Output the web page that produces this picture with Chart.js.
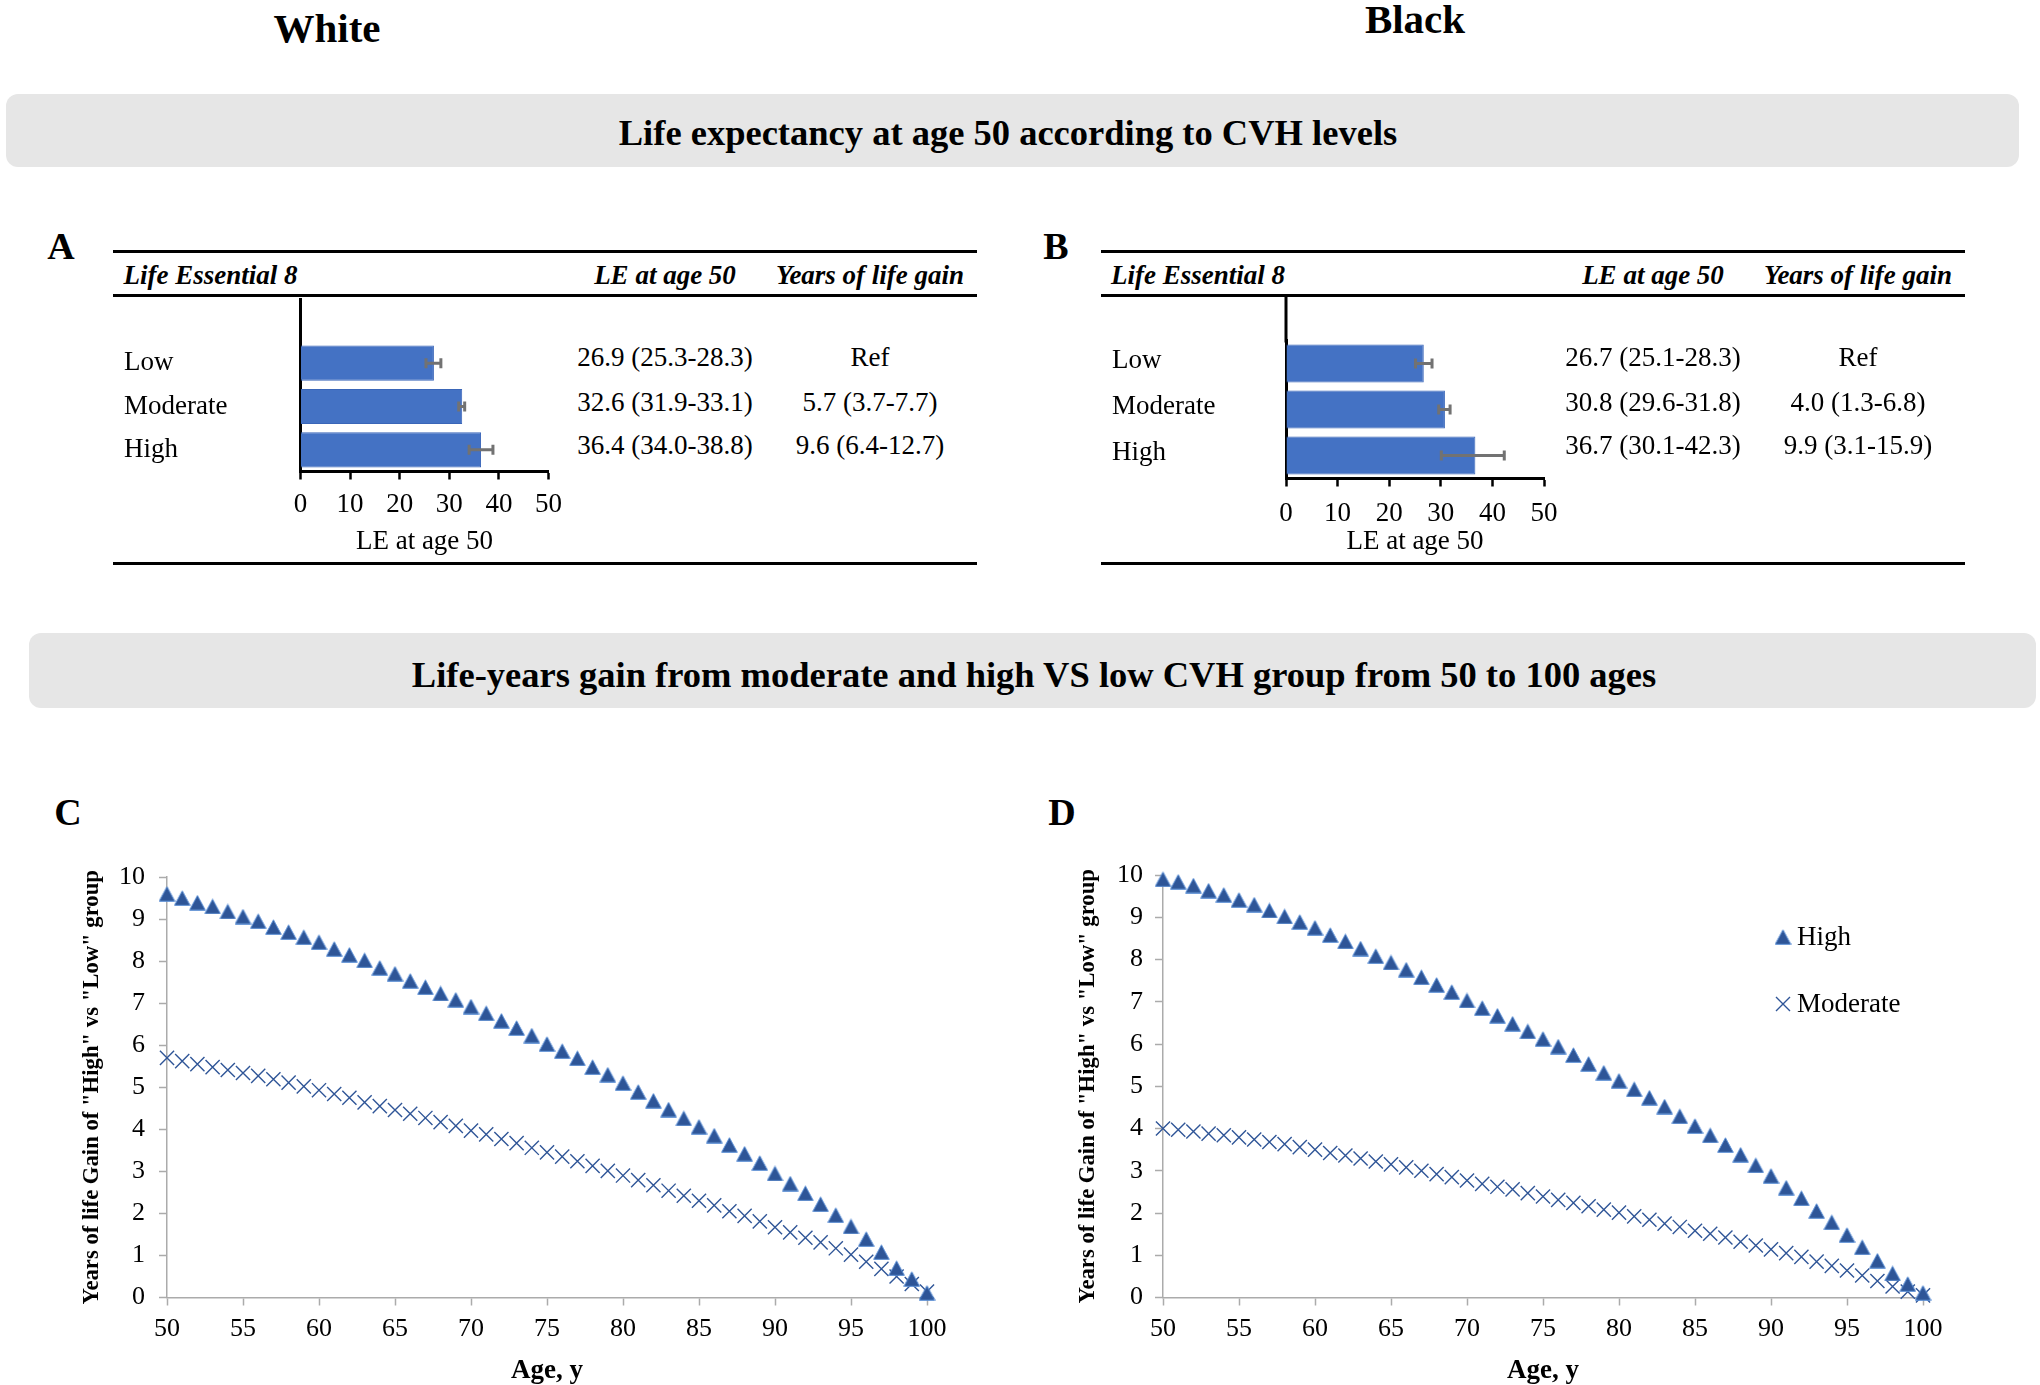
<!DOCTYPE html>
<html>
<head>
<meta charset="utf-8">
<script src="https://cdn.jsdelivr.net/npm/chart.js@4.4.1/dist/chart.umd.min.js"></script>
<style>
html,body{margin:0;padding:0;background:#fff;}
#page{position:relative;width:2040px;height:1385px;overflow:hidden;font-family:"Liberation Serif","Times New Roman",serif;color:#000;}
.t{position:absolute;white-space:nowrap;line-height:1;}
.c{transform:translate(-50%,-50%);}
.l{transform:translateY(-50%);}
.b{font-weight:bold;}
.bi{font-weight:bold;font-style:italic;}
.rule{position:absolute;height:3px;background:#000;}
.banner{position:absolute;background:#e6e6e6;border-radius:12px;}
canvas{position:absolute;}
</style>
</head>
<body>
<div id="page">
  <div class="t c b" style="left:327px;top:28px;font-size:41px;">White</div>
  <div class="t c b" style="left:1415px;top:19px;font-size:41px;">Black</div>

  <div class="banner" style="left:6px;top:94px;width:2013px;height:73px;"></div>
  <div class="t c b" style="left:1008px;top:133px;font-size:36.5px;">Life expectancy at age 50 according to CVH levels</div>

  <div class="banner" style="left:29px;top:633px;width:2007px;height:75px;"></div>
  <div class="t c b" style="left:1034px;top:675px;font-size:36.5px;">Life-years gain from moderate and high VS low CVH group from 50 to 100 ages</div>

  <div class="t c b" style="left:61px;top:246px;font-size:38px;">A</div>
  <div class="t c b" style="left:1056px;top:246px;font-size:38px;">B</div>
  <div class="t c b" style="left:68px;top:812px;font-size:38px;">C</div>
  <div class="t c b" style="left:1062px;top:812px;font-size:38px;">D</div>

  <canvas id="chartA" width="460" height="265" style="left:114px;top:290px;width:460px;height:265px;"></canvas>
  <canvas id="chartB" width="470" height="265" style="left:1101px;top:290px;width:470px;height:265px;"></canvas>
  <canvas id="chartC" width="940" height="535" style="left:40px;top:850px;width:940px;height:535px;"></canvas>
  <canvas id="chartD" width="1000" height="535" style="left:1040px;top:850px;width:1000px;height:535px;"></canvas>
</div>

<script>
// ---------------- DATA ----------------
const categories = ['Low', 'Moderate', 'High'];

const whiteLE   = [26.9, 32.6, 36.4];
const whiteLElo = [25.3, 31.9, 34.0];
const whiteLEhi = [28.3, 33.1, 38.8];
const whiteGain   = [null, 5.7, 9.6];
const whiteGainLo = [null, 3.7, 6.4];
const whiteGainHi = [null, 7.7, 12.7];

const blackLE   = [26.7, 30.8, 36.7];
const blackLElo = [25.1, 29.6, 30.1];
const blackLEhi = [28.3, 31.8, 42.3];
const blackGain   = [null, 4.0, 9.9];
const blackGainLo = [null, 1.3, 3.1];
const blackGainHi = [null, 6.8, 15.9];

const leTicks = [0, 10, 20, 30, 40, 50];

const ages = [50,51,52,53,54,55,56,57,58,59,60,61,62,63,64,65,66,67,68,69,70,71,72,73,74,75,76,77,78,79,80,81,82,83,84,85,86,87,88,89,90,91,92,93,94,95,96,97,98,99,100];

const whiteHigh = [9.6,9.5,9.39,9.3,9.18,9.06,8.95,8.81,8.69,8.57,
  8.45,8.29,8.15,8.02,7.84,7.7,7.53,7.38,7.23,7.08,
  6.92,6.76,6.58,6.41,6.23,6.03,5.86,5.69,5.48,5.3,
  5.1,4.89,4.68,4.47,4.26,4.06,3.85,3.63,3.42,3.2,
  2.95,2.71,2.48,2.22,1.96,1.69,1.39,1.08,0.7,0.44,
  0.11];
const whiteModerate = [5.7,5.62,5.55,5.48,5.41,5.34,5.27,5.19,5.11,5.02,
  4.93,4.84,4.75,4.64,4.55,4.46,4.37,4.27,4.17,4.08,
  3.97,3.88,3.77,3.67,3.56,3.45,3.35,3.24,3.13,3.01,
  2.9,2.79,2.67,2.54,2.42,2.3,2.19,2.05,1.94,1.81,
  1.67,1.55,1.42,1.31,1.17,1.02,0.85,0.68,0.5,0.32,
  0.14];
const blackHigh = [9.9,9.84,9.75,9.63,9.53,9.41,9.3,9.16,9.02,8.89,
  8.75,8.58,8.43,8.26,8.08,7.93,7.76,7.58,7.4,7.23,
  7.03,6.85,6.67,6.48,6.3,6.12,5.94,5.74,5.53,5.32,
  5.13,4.93,4.73,4.52,4.29,4.06,3.84,3.61,3.38,3.13,
  2.88,2.6,2.35,2.05,1.78,1.48,1.19,0.87,0.57,0.32,
  0.11];
const blackModerate = [4.0,3.97,3.93,3.88,3.84,3.79,3.74,3.68,3.63,3.56,
  3.5,3.42,3.36,3.29,3.22,3.15,3.08,3.0,2.92,2.85,
  2.77,2.69,2.62,2.56,2.47,2.39,2.31,2.24,2.16,2.08,
  2.01,1.92,1.84,1.75,1.67,1.58,1.51,1.42,1.32,1.23,
  1.14,1.05,0.96,0.85,0.75,0.64,0.52,0.39,0.26,0.14,
  0.05];

const seriesNames = ['High', 'Moderate'];
const headers = ['Life Essential 8', 'LE at age 50', 'Years of life gain'];
const leAxisTitle = 'LE at age 50';
const ageAxisTitle = 'Age, y';
const gainAxisTitle = 'Years of life Gain of "High" vs "Low" group';

// ---------------- HELPERS ----------------
const FONT = '"Liberation Serif", "Times New Roman", serif';
const page = document.getElementById('page');

function addText(txt, cls, x, y, size) {
  const d = document.createElement('div');
  d.className = 't ' + cls;
  d.style.left = x + 'px';
  d.style.top = y + 'px';
  d.style.fontSize = size + 'px';
  d.textContent = txt;
  page.appendChild(d);
}
function addRule(x1, x2, y) {
  const d = document.createElement('div');
  d.className = 'rule';
  d.style.left = x1 + 'px';
  d.style.width = (x2 - x1) + 'px';
  d.style.top = (y - 1.5) + 'px';
  page.appendChild(d);
}
function fmtCI(v, lo, hi) {
  return v.toFixed(1) + ' (' + lo.toFixed(1) + '-' + hi.toFixed(1) + ')';
}

function buildTable(L, le, lo, hi, g, glo, ghi) {
  addRule(L.x1, L.x2, L.ruleTop);
  addRule(L.x1, L.x2, L.ruleMid);
  addRule(L.x1, L.x2, L.ruleBot);
  addText(headers[0], 'l bi', L.hLeft, L.hY, 27);
  addText(headers[1], 'c bi', L.col1, L.hY, 27);
  addText(headers[2], 'c bi', L.col2, L.hY, 27);
  for (let i = 0; i < categories.length; i++) {
    addText(fmtCI(le[i], lo[i], hi[i]), 'c', L.col1, L.rowsY[i], 27);
    addText(g[i] === null ? 'Ref' : fmtCI(g[i], glo[i], ghi[i]), 'c', L.col2, L.rowsY[i], 27);
  }
}

buildTable({x1:113, x2:977, ruleTop:251, ruleMid:295, ruleBot:563, hLeft:123.5, hY:275, col1:665, col2:870, rowsY:[357, 401.5, 445]},
  whiteLE, whiteLElo, whiteLEhi, whiteGain, whiteGainLo, whiteGainHi);
buildTable({x1:1101, x2:1965, ruleTop:251, ruleMid:295, ruleBot:563, hLeft:1111, hY:275, col1:1653, col2:1858, rowsY:[357, 401.5, 445]},
  blackLE, blackLElo, blackLEhi, blackGain, blackGainLo, blackGainHi);

// ---------------- BAR CHARTS ----------------
function errorBars(lo, hi) {
  return {
    id: 'errbars',
    afterDatasetsDraw(chart) {
      const ctx = chart.ctx, xs = chart.scales.x;
      const meta = chart.getDatasetMeta(0);
      ctx.save();
      ctx.strokeStyle = '#727272';
      ctx.lineWidth = 3;
      meta.data.forEach((bar, i) => {
        const y = bar.y;
        const x1 = xs.getPixelForValue(lo[i]), x2 = xs.getPixelForValue(hi[i]);
        ctx.beginPath();
        ctx.moveTo(x1, y); ctx.lineTo(x2, y);
        ctx.moveTo(x1, y - 5); ctx.lineTo(x1, y + 5);
        ctx.moveTo(x2, y - 5); ctx.lineTo(x2, y + 5);
        ctx.stroke();
      });
      ctx.restore();
    }
  };
}
function axisExtend(topY) {
  return {
    id: 'axisext',
    afterDraw(chart) {
      const ctx = chart.ctx, a = chart.chartArea;
      ctx.save();
      ctx.strokeStyle = '#000';
      ctx.lineWidth = 3;
      ctx.beginPath();
      ctx.moveTo(a.left, topY);
      ctx.lineTo(a.left, a.top + 2);
      ctx.stroke();
      ctx.restore();
    }
  };
}

function barChart(id, le, lo, hi, L) {
  return new Chart(document.getElementById(id), {
    type: 'bar',
    data: {
      labels: categories,
      datasets: [{
        data: le,
        backgroundColor: '#4472C4',
        borderColor: '#3A66B8',
        borderWidth: 1,
        barPercentage: L.barPct,
        categoryPercentage: 1
      }]
    },
    options: {
      indexAxis: 'y',
      responsive: false,
      animation: false,
      layout: {padding: {left: L.padL, top: L.padT, right: L.padR, bottom: 0}},
      plugins: {legend: {display: false}, tooltip: {enabled: false}},
      scales: {
        x: {
          type: 'linear', min: leTicks[0], max: leTicks[leTicks.length - 1],
          afterBuildTicks: s => { s.ticks = leTicks.map(v => ({value: v})); },
          ticks: {color: '#000', padding: L.tickPad, maxRotation: 0, font: {family: FONT, size: 27, lineHeight: 1}},
          grid: {display: true, drawOnChartArea: false, drawTicks: true, tickLength: 8, tickWidth: 2.5, tickColor: '#000'},
          border: {display: true, color: '#000', width: 3},
          title: {display: true, text: leAxisTitle, color: '#000', font: {family: FONT, size: 27, lineHeight: 1}, padding: {top: 0, bottom: 0}},
          afterFit: s => { s.height = L.xH; }
        },
        y: {
          ticks: {crossAlign: 'far', color: '#000', padding: 0, labelOffset: L.labelOffset, font: {family: FONT, size: 27, lineHeight: 1}},
          grid: {display: false, drawTicks: false},
          border: {display: true, color: '#000', width: 3},
          afterFit: s => { s.width = L.yW; }
        }
      }
    },
    plugins: [errorBars(lo, hi), axisExtend(L.axisTop)]
  });
}

barChart('chartA', whiteLE, whiteLElo, whiteLEhi,
  {padL: 10, padT: 51.5, padR: 23.5, xH: 83.5, yW: 176.5, tickPad: 12, barPct: 0.812, axisTop: 8, labelOffset: 0});
barChart('chartB', blackLE, blackLElo, blackLEhi,
  {padL: 11, padT: 50.5, padR: 26.7, xH: 76.5, yW: 174, tickPad: 13.5, barPct: 0.83, axisTop: 4.3, labelOffset: -2.5});

// ---------------- SCATTER CHARTS ----------------
function makeTriangle() {
  const c = document.createElement('canvas');
  c.width = 17; c.height = 16;
  const g = c.getContext('2d');
  g.beginPath();
  g.moveTo(8.5, 0.8);
  g.lineTo(16.3, 15.3);
  g.lineTo(0.7, 15.3);
  g.closePath();
  g.fillStyle = '#2E5597';
  g.fill();
  g.lineWidth = 1;
  g.strokeStyle = '#5B8FD6';
  g.stroke();
  return c;
}
const triImg = makeTriangle();
const MARK = '#2F5597';
const AXIS_GRAY = '#ABABAB';

function legendPlugin(x, y1, y2) {
  return {
    id: 'customLegend',
    afterDraw(chart) {
      const ctx = chart.ctx;
      ctx.save();
      ctx.drawImage(triImg, x - 8.5, y1 - 8);
      ctx.strokeStyle = MARK;
      ctx.lineWidth = 1.4;
      ctx.beginPath();
      ctx.moveTo(x - 7, y2 - 7); ctx.lineTo(x + 7, y2 + 7);
      ctx.moveTo(x - 7, y2 + 7); ctx.lineTo(x + 7, y2 - 7);
      ctx.stroke();
      ctx.fillStyle = '#000';
      ctx.font = '27px ' + FONT;
      ctx.textBaseline = 'middle';
      ctx.textAlign = 'left';
      ctx.fillText(chart.data.datasets[0].label, x + 14, y1 + 1);
      ctx.fillText(chart.data.datasets[1].label, x + 14, y2 + 1);
      ctx.restore();
    }
  };
}

function scatterChart(id, high, moderate, L, extraPlugins) {
  return new Chart(document.getElementById(id), {
    type: 'scatter',
    data: {
      datasets: [
        {
          label: seriesNames[0],
          data: ages.map((a, i) => ({x: a, y: high[i]})),
          pointStyle: triImg,
          pointRadius: 8,
          clip: false
        },
        {
          label: seriesNames[1],
          data: ages.map((a, i) => ({x: a, y: moderate[i]})),
          pointStyle: 'crossRot',
          pointRadius: 10,
          pointBorderWidth: 1.4,
          borderColor: MARK,
          backgroundColor: MARK,
          clip: false
        }
      ]
    },
    options: {
      responsive: false,
      animation: false,
      layout: {padding: {left: 0, top: 24.5, right: L.padR, bottom: 0}},
      plugins: {legend: {display: false}, tooltip: {enabled: false}},
      scales: {
        x: {
          type: 'linear', min: 50, max: 100,
          ticks: {stepSize: 5, color: '#000', padding: 11, maxRotation: 0, autoSkip: false, font: {family: FONT, size: 26, lineHeight: 1}},
          grid: {display: true, drawOnChartArea: false, drawTicks: true, tickLength: 8, tickWidth: 1.5, tickColor: AXIS_GRAY},
          border: {display: true, color: AXIS_GRAY, width: 1.5},
          title: {display: true, text: ageAxisTitle, color: '#000', font: {family: FONT, size: 27, weight: 'bold', lineHeight: 1}, padding: {top: 0, bottom: 0.5}},
          afterFit: s => { s.height = 87.5; }
        },
        y: {
          type: 'linear', min: 0, max: 10,
          ticks: {stepSize: 1, color: '#000', padding: L.yTickPad, font: {family: FONT, size: 26, lineHeight: 1}},
          grid: {display: true, drawOnChartArea: false, drawTicks: true, tickLength: 8, tickWidth: 1.5, tickColor: AXIS_GRAY},
          border: {display: true, color: AXIS_GRAY, width: 1.5},
          title: {display: true, text: gainAxisTitle, color: '#000', font: {family: FONT, size: 22.7, weight: 'bold', lineHeight: 1}, padding: {top: L.yTitlePad, bottom: 0}},
          afterFit: s => { s.width = L.yW; }
        }
      }
    },
    plugins: extraPlugins || []
  });
}

scatterChart('chartC', whiteHigh, whiteModerate, {padR: 53, yW: 127, yTickPad: 14, yTitlePad: 41});
scatterChart('chartD', blackHigh, blackModerate, {padR: 117, yW: 123, yTickPad: 12, yTitlePad: 37},
  [legendPlugin(743, 87, 154)]);
</script>
</body>
</html>
